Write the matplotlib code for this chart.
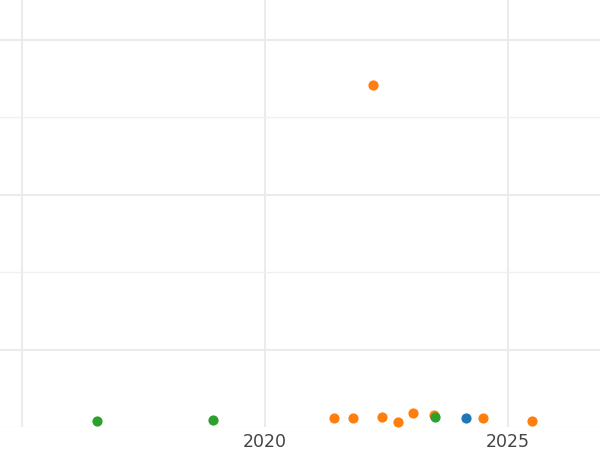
"""
Scatter of releases by year, three groups
"""

import matplotlib.pyplot as plt
from matplotlib.ticker import MultipleLocator

# data
blue_x = [2024.13]
blue_y = [0.12]

orange_x = [2021.41, 2021.82, 2022.22, 2022.41, 2022.73, 2023.05, 2023.48,
            2024.49, 2025.50]
orange_y = [0.116, 0.116, 4.41, 0.129, 0.068, 0.185, 0.155, 0.116, 0.077]

green_x = [2016.54, 2018.94, 2023.50]
green_y = [0.074, 0.086, 0.129]

xticks = [2015, 2020, 2025]
xticklabels = ['', '2020', '2025']

fig = plt.figure(figsize=(6, 4.5), dpi=100)
ax = fig.add_axes([0, 1 - 427 / 450, 1, 427 / 450])

ax.scatter(blue_x, blue_y, s=54, color='#1f77b4', zorder=3, linewidths=0)
ax.scatter(orange_x, orange_y, s=54, color='#ff7f0e', zorder=3, linewidths=0)
ax.scatter(green_x, green_y, s=54, color='#2ca02c', zorder=4, linewidths=0)

ax.set_xlim(2014.547, 2026.893)
ax.set_ylim(0, 5.51)

ax.set_xticks(xticks)
ax.set_xticklabels(xticklabels, fontsize=12.5, color='#444444')
ax.yaxis.set_minor_locator(MultipleLocator(1))
ax.set_yticks([1, 3, 5])
ax.set_yticklabels([])

ax.grid(True, which='major', color='#ebebeb', linewidth=1.5)
ax.grid(True, which='minor', axis='y', color='#f0f0f0', linewidth=1.0)
ax.set_axisbelow(True)
ax.tick_params(which='both', length=0, pad=4)
for s in ax.spines.values():
    s.set_visible(False)

fig.savefig('out.png', dpi=100)
